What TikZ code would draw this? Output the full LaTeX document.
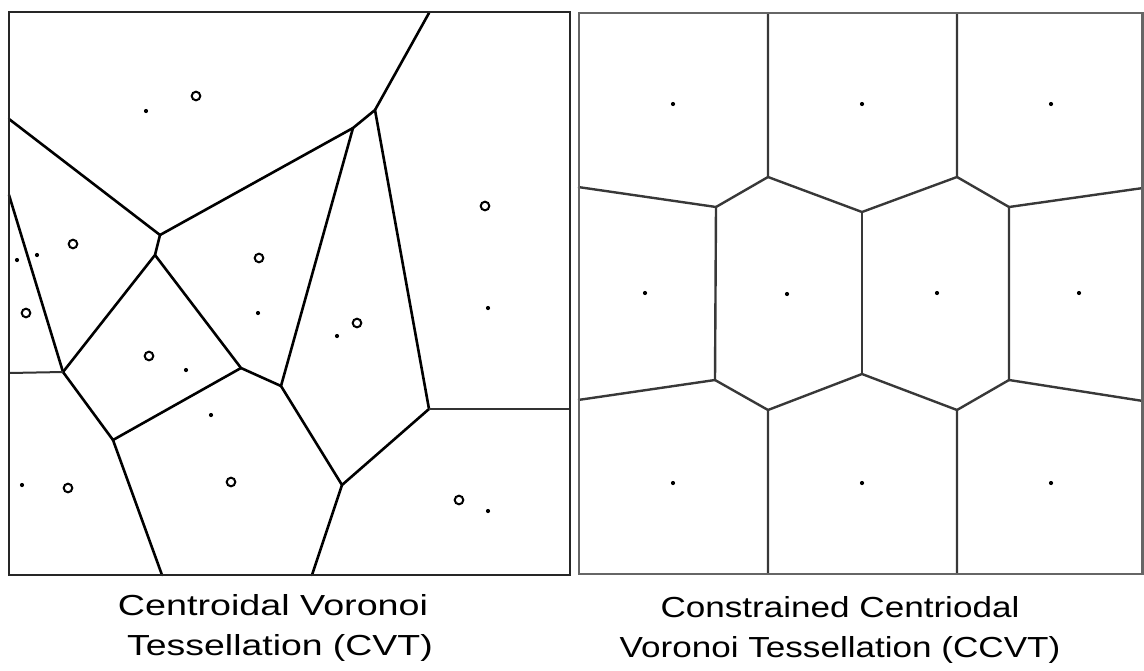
\documentclass[tikz,border=0pt]{standalone}
\usepackage{fontspec}
\setmainfont{Liberation Sans}
\begin{document}
\begin{tikzpicture}[x=1pt,y=-1pt,
  frameL/.style={draw=black!85, line width=2.8pt},
  frameR/.style={draw=black!60, line width=2.6pt},
  cvtedge/.style={draw=black, line width=2.6pt, line cap=round, line join=round},
  cvtthin/.style={draw=black!80, line width=2pt},
  ccvtedge/.style={draw=black!78, line width=2.4pt, line join=round},
  generator/.style={draw=black, line width=2pt, fill=white},
  centroid/.style={fill=black},
  caption/.style={font=\fontsize{29}{36}\selectfont, anchor=base, inner sep=0pt}]
\useasboundingbox (0,0) rectangle (1144,670);

% ---------- left panel: centroidal Voronoi tessellation ----------
\coordinate (la)  at (160,235);
\coordinate (la2) at (155,255);
\coordinate (lb)  at (353,128);
\coordinate (lc)  at (375,110);
\coordinate (lct) at (429,13);
\coordinate (ld)  at (63,372);
\coordinate (le)  at (241,368);
\coordinate (lf)  at (113,440);
\coordinate (lg)  at (281,386);
\coordinate (lh)  at (342,485);
\coordinate (li)  at (429,409);
\coordinate (lw1) at (9,119);
\coordinate (lw2) at (9,195);
\coordinate (lw3) at (9,373);
\coordinate (lfb) at (162,575);
\coordinate (lhb) at (312,575);
\coordinate (lir) at (570,409);

\draw[cvtedge] (lw1) -- (la) -- (lb) -- (lc) -- (lct);
\draw[cvtedge] (la) -- (la2) -- (ld);
\draw[cvtedge] (la2) -- (le) -- (lg) -- (lb);
\draw[cvtedge] (lw2) -- (ld) -- (lf) -- (le);
\draw[cvtedge] (lf) -- (lfb);
\draw[cvtedge] (lg) -- (lh) -- (li) -- (lc);
\draw[cvtedge] (lh) -- (lhb);
\draw[cvtthin] (ld) -- (lw3);
\draw[cvtthin] (li) -- (lir);

% generators (rings) and centroids (dots)
\foreach \p in {(196,96),(73,244),(259,258),(485,206),(26,313),(149,356),
                (68,488),(231,482),(357,323),(459,500)}
  \draw[generator] \p circle[radius=4.3pt];
\foreach \p in {(146,111),(17,260),(37,255),(258,313),(186,370),(211,415),
                (22,485),(337,336),(488,308),(488,511)}
  \fill[centroid] \p circle[radius=2.1pt];

\draw[frameL] (9,12) rectangle (570,575);

% ---------- right panel: constrained centroidal Voronoi tessellation ----------
\coordinate (r1)  at (768,177);
\coordinate (r2)  at (716,207);
\coordinate (r3)  at (715,380);
\coordinate (r4)  at (862,212);
\coordinate (r5)  at (957,177);
\coordinate (r6)  at (1009,207);
\coordinate (r7)  at (768,410);
\coordinate (r8)  at (862,374);
\coordinate (r9)  at (957,410);
\coordinate (r10) at (1009,380);
\coordinate (r1t) at (768,13);
\coordinate (r5t) at (957,13);
\coordinate (r7b) at (768,574);
\coordinate (r9b) at (957,574);
\coordinate (r2w) at (578,187);
\coordinate (r3w) at (578,400);
\coordinate (r6e) at (1143,188);
\coordinate (r10e) at (1143,401);

\draw[ccvtedge] (r1t) -- (r1) -- (r2) -- (r3) -- (r7) -- (r7b);
\draw[ccvtedge] (r1) -- (r4) -- (r5) -- (r5t);
\draw[ccvtedge] (r5) -- (r6) -- (r10) -- (r9) -- (r9b);
\draw[ccvtedge] (r9) -- (r8) -- (r7);
\draw[ccvtedge] (r4) -- (r8);
\draw[ccvtedge] (r2) -- (r2w);
\draw[ccvtedge] (r3) -- (r3w);
\draw[ccvtedge] (r6) -- (r6e);
\draw[ccvtedge] (r10) -- (r10e);

\foreach \p in {(673,104),(862,104),(1051,104),(645,293),(787,294),
                (937,293),(1079,293),(673,483),(862,483),(1051,483)}
  \fill[centroid] \p circle[radius=2.1pt];

\draw[frameR] (579,13) rectangle (1142.7,574);

% ---------- captions ----------
\node[caption] (capl1) at (273,615) {\scalebox{1.30}[1]{Centroidal Voronoi}};
\node[caption] (capl2) at (280,655) {\scalebox{1.29}[1]{Tessellation (CVT)}};
\node[caption] (capr1) at (840,617) {\scalebox{1.21}[1]{Constrained Centriodal}};
\node[caption] (capr2) at (840,657) {\scalebox{1.21}[1]{Voronoi Tessellation (CCVT)}};
\end{tikzpicture}
\end{document}
